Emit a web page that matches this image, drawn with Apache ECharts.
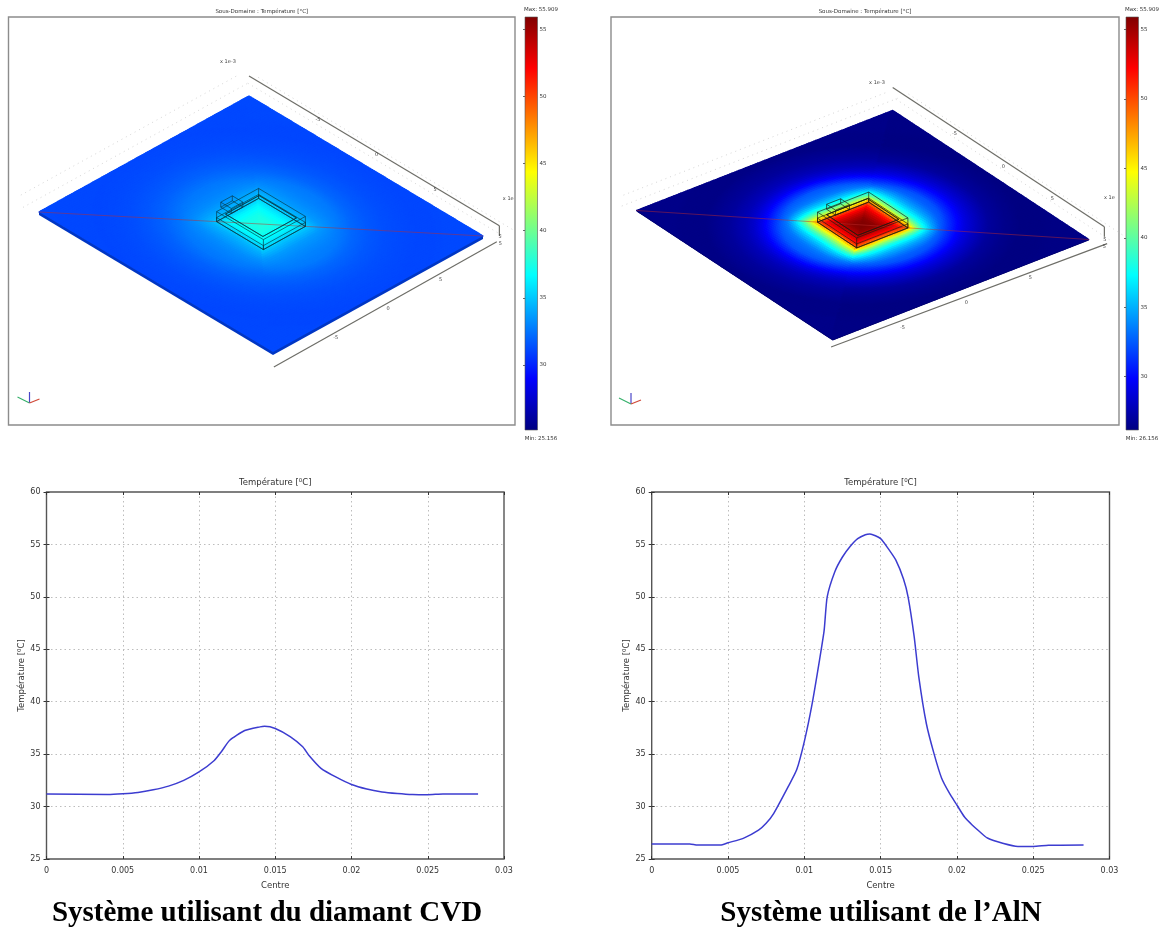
<!DOCTYPE html>
<html>
<head>
<meta charset="utf-8">
<style>
html,body{margin:0;padding:0;background:#fff;overflow:hidden}
#c{width:1163px;height:931px;filter:blur(0.5px)}
</style>
<script src="https://cdn.jsdelivr.net/npm/echarts@6/dist/echarts.min.js"></script>
</head>
<body>
<div id="c"></div>
<script>
// ---------- data ----------
const xTicksMax = 0.03;
const centreDiamond = [0,0.004,0.005,0.006,0.007,0.008,0.009,0.01,0.011,0.0115,0.012,0.013,0.014,0.0143,0.015,0.016,0.0168,0.0172,0.018,0.019,0.02,0.021,0.022,0.023,0.024,0.025,0.026,0.0283];
const tempDiamond   = [31.2,31.15,31.22,31.35,31.6,31.95,32.5,33.3,34.4,35.3,36.3,37.25,37.6,37.65,37.45,36.65,35.7,34.9,33.65,32.8,32.1,31.67,31.4,31.25,31.15,31.13,31.2,31.2];
const centreAlN = [0,0.0025,0.003,0.0045,0.005,0.006,0.007,0.0075,0.008,0.009,0.0095,0.01,0.0105,0.011,0.0113,0.0115,0.012,0.0125,0.013,0.0135,0.014,0.0143,0.015,0.0155,0.016,0.0165,0.0168,0.0172,0.0175,0.018,0.0185,0.019,0.0195,0.02,0.0205,0.021,0.0215,0.022,0.023,0.024,0.025,0.026,0.0283];
const tempAlN   = [26.43,26.43,26.33,26.33,26.55,26.97,27.75,28.4,29.35,32.05,33.5,36.2,39.7,44,46.8,50,52.4,53.8,54.8,55.55,55.93,56,55.55,54.6,53.5,51.7,50,46.2,42.4,37.9,35.05,32.7,31.3,30.15,29,28.25,27.6,27,26.5,26.2,26.2,26.3,26.33];
const colorbarTicks = [30,35,40,45,50,55];
const rangeDiamond = [25.156,55.909];
const rangeAlN = [26.156,55.909];
const modelTicks = [-5,0,5];
const lineTitle = 'Température [⁰C]';
const viewTitle = 'Sous-Domaine : Température [°C]';
const captionDiamond = 'Système utilisant du diamant CVD';
const captionAlN = 'Système utilisant de l’AlN';

// geometry of the modelled assembly, millimetres: [uMin,uMax,vMin,vMax,wMin,wMax]
const chipBoxes = [[-2,2,-2,2,0,10],[-2,2,-2,2,0,4],[-1.6,1.6,-1.6,1.6,8,8],[-2.9,-2,-0.6,0.5,0,5]];
const plateHalf = 10;

// ---------- colour map ----------
const jet = [[0,[0,0,128]],[0.125,[0,0,255]],[0.375,[0,255,255]],[0.625,[255,255,0]],[0.875,[255,0,0]],[1,[128,0,0]]];
function jetColor(t){
  t=Math.max(0,Math.min(1,t));
  for(let i=1;i<jet.length;i++){
    if(t<=jet[i][0]){
      const a=jet[i-1],b=jet[i],k=(t-a[0])/(b[0]-a[0]);
      return 'rgb('+[0,1,2].map(c=>Math.round(a[1][c]+(b[1][c]-a[1][c])*k)).join(',')+')';
    }
  }
  return 'rgb(128,0,0)';
}
function lookup(xs,ys,x){
  if(x<=xs[0])return ys[0];
  for(let i=1;i<xs.length;i++){ if(x<=xs[i]){const k=(x-xs[i-1])/(xs[i]-xs[i-1]);return ys[i-1]+(ys[i]-ys[i-1])*k;} }
  return ys[ys.length-1];
}

// ---------- layout ----------
const panels = [
 {name:'diamond',centre:centreDiamond,temp:tempDiamond,range:rangeDiamond,caption:captionDiamond,
  plot:{left:46.5,right:504,top:492,bottom:859},
  frame:{left:8.5,right:515,top:17,bottom:425},bar:{left:525,right:537.5,top:17,bottom:430},
  origin:[261,224],eu:[11.7,7],ev:[10.5,-5.8],thick:3,side:'#0036c4',wire:'#06323f',wireOp:0.8,
  back:[11.4,20],front:[[11.15,-11.2],[11,10.2]],tickLabel:[0.9,17.5],
  notes:[[-10.9,9,33.5,'x 1e-3'],[8.3,14.3,0,'x 1e'],[10.77,10.76,0,'5'],[11.3,10.2,0,'5']],
  triad:[29.5,403],capX:267},
 {name:'aln',centre:centreAlN,temp:tempAlN,range:rangeAlN,caption:captionAlN,
  plot:{left:651.7,right:1109.5,top:492,bottom:859},
  frame:{left:611,right:1119,top:17,bottom:425},bar:{left:1126,right:1138.5,top:17,bottom:430},
  origin:[862.7,225],eu:[9.8,6.45],ev:[12.8,-5],thick:1,side:'#000070',wire:'#1a1a10',wireOp:0.85,
  back:[11.6,23],front:[[10.67,-10.64],[11.1,10.6]],tickLabel:[1.3,17],
  notes:[[-13.3,11.3,0,'x 1e-3'],[6.76,14.1,0,'x 1e'],[10.66,10.76,0,'5'],[11.34,10.2,0,'5']],
  triad:[631,404],capX:881}
];

const grids=[],xAxes=[],yAxes=[],series=[],graphic=[];
const W=1163,H=931;
const smallFont='5.5px "DejaVu Sans"';
const txt='#333';

function addGrid(r,extra){
  grids.push(Object.assign({left:r.left,top:r.top,width:r.right-r.left,height:r.bottom-r.top,containLabel:false},extra||{}));
  return grids.length-1;
}

panels.forEach(p=>{
  // ---- line chart ----
  const g=addGrid(p.plot,{show:true,borderColor:'#555',borderWidth:1.4});
  const gridLine={show:true,showMinLine:false,showMaxLine:false,lineStyle:{color:'#bdbdbd',type:[1.5,3],width:1}};
  const tickIn={show:true,inside:true,length:3,lineStyle:{color:'#333',width:1}};
  const nameStyle={color:txt,fontSize:8.5,fontFamily:'DejaVu Sans'};
  xAxes.push({gridIndex:g,type:'value',min:0,max:xTicksMax,interval:0.005,position:'bottom',
    name:'Centre',nameLocation:'middle',nameGap:22,nameTextStyle:nameStyle,
    axisLine:{show:false},axisTick:tickIn,splitLine:gridLine,
    axisLabel:{color:txt,fontSize:8,fontFamily:'DejaVu Sans',margin:8,showMinLabel:true,showMaxLabel:true}});
  const xMain=xAxes.length-1;
  xAxes.push({gridIndex:g,type:'value',min:0,max:xTicksMax,interval:0.005,position:'top',
    name:lineTitle,nameLocation:'middle',nameGap:5,nameTextStyle:nameStyle,
    axisLine:{show:false},axisTick:tickIn,splitLine:{show:false},axisLabel:{show:false}});
  yAxes.push({gridIndex:g,type:'value',min:25,max:60,interval:5,position:'left',
    name:lineTitle,nameLocation:'middle',nameRotate:90,nameGap:19,nameTextStyle:nameStyle,
    axisLine:{show:false},axisTick:tickIn,splitLine:gridLine,
    axisLabel:{color:txt,fontSize:8,fontFamily:'DejaVu Sans',margin:6}});
  const yMain=yAxes.length-1;
  yAxes.push({gridIndex:g,type:'value',min:25,max:60,interval:5,position:'right',
    axisLine:{show:false},axisTick:tickIn,splitLine:{show:false},axisLabel:{show:false}});
  series.push({type:'line',name:p.name,xAxisIndex:xMain,yAxisIndex:yMain,symbol:'none',smooth:0.2,
    data:p.centre.map((x,i)=>[x,p.temp[i]]),lineStyle:{color:'#3c3cd0',width:1.5},silent:true,z:5});

  // ---- colour bar ----
  const gb=addGrid(p.bar);
  xAxes.push({gridIndex:gb,type:'value',min:0,max:1,show:false});
  const xb=xAxes.length-1;
  yAxes.push({gridIndex:gb,type:'value',min:p.range[0],max:p.range[1],position:'right',
    axisLine:{show:false},
    axisTick:{show:true,inside:true,length:2,lineStyle:{color:'#444',width:0.8},customValues:colorbarTicks},
    splitLine:{show:false},
    axisLabel:{show:true,color:txt,fontSize:5.5,fontFamily:'DejaVu Sans',margin:2,customValues:colorbarTicks}});
  const yb=yAxes.length-1;
  series.push({type:'custom',xAxisIndex:xb,yAxisIndex:yb,silent:true,z:3,data:[[0,p.range[0],1,p.range[1]]],
    renderItem:(params,api)=>{
      const a=api.coord([api.value(0),api.value(3)]),b=api.coord([api.value(2),api.value(1)]);
      const stops=jet.slice().reverse().map(s=>({offset:1-s[0],color:'rgb('+s[1].join(',')+')'}));
      return {type:'rect',shape:{x:a[0],y:a[1],width:b[0]-a[0],height:b[1]-a[1]},
        style:{fill:new echarts.graphic.LinearGradient(0,0,0,1,stops),stroke:'#555',lineWidth:0.6}};
    }});
  const barMid=p.bar.left+16;
  graphic.push({type:'text',x:barMid,y:10,silent:true,style:{text:'Max: '+p.range[1],font:smallFont,fill:txt,align:'center',verticalAlign:'middle'}});
  graphic.push({type:'text',x:barMid,y:439,silent:true,style:{text:'Min: '+p.range[0],font:smallFont,fill:txt,align:'center',verticalAlign:'middle'}});

  // ---- surface view: hidden axes in view units, mapped to the frame ----
  const gv=addGrid(p.frame,{show:true,borderColor:'#8c8c8c',borderWidth:1.4});
  xAxes.push({gridIndex:gv,type:'value',min:p.frame.left,max:p.frame.right,show:true,position:'top',
    name:viewTitle,nameLocation:'middle',nameGap:2,nameTextStyle:{color:txt,fontSize:5.5,fontFamily:'DejaVu Sans'},
    axisLine:{show:false},axisTick:{show:false},axisLabel:{show:false},splitLine:{show:false}});
  const xv=xAxes.length-1;
  yAxes.push({gridIndex:gv,type:'value',min:p.frame.top,max:p.frame.bottom,inverse:true,show:false});
  const yv=yAxes.length-1;
  const proj=(u,v,w)=>[p.origin[0]+u*p.eu[0]+v*p.ev[0],p.origin[1]+u*p.eu[1]+v*p.ev[1]-(w||0)];

  // temperature at a plate position, taken from the measured centre-line profile
  const diag=Math.SQRT2*plateHalf/1000;
  const fieldT=(u,v)=>{
    const d=Math.hypot(u,v),sq=Math.max(Math.abs(u),Math.abs(v))*Math.SQRT2;
    const m=Math.max(0,Math.min(1,(5-d)/3));
    const r=(d*(1-m)+sq*m)/1000;
    return lookup(p.centre,p.temp,u+v<0?diag-r:diag+r);
  };
  const N=110,cells=[];
  for(let i=0;i<N;i++)for(let j=0;j<N;j++)cells.push([i,j]);
  const span=2*plateHalf/N;
  series.push({type:'custom',xAxisIndex:xv,yAxisIndex:yv,silent:true,z:2,progressive:0,data:cells,
    renderItem:(params,api)=>{
      const i=api.value(0),j=api.value(1),u=-plateHalf+i*span,v=-plateHalf+j*span;
      const pts=[proj(u,v),proj(u+span,v),proj(u+span,v+span),proj(u,v+span)].map(q=>api.coord(q));
      const c=jetColor((fieldT(u+span/2,v+span/2)-p.range[0])/(p.range[1]-p.range[0]));
      return {type:'polygon',shape:{points:pts},style:{fill:c,stroke:c,lineWidth:1.4,lineJoin:'round'}};
    }});
  // plate side faces
  const h=plateHalf;
  const sides=[[[-h,-h],[h,-h]],[[h,-h],[h,h]]];
  series.push({type:'custom',xAxisIndex:xv,yAxisIndex:yv,silent:true,z:3,data:sides.map((s,i)=>[i]),
    renderItem:(params,api)=>{
      const s=sides[api.value(0)];
      const pts=[proj(s[0][0],s[0][1]),proj(s[1][0],s[1][1]),proj(s[1][0],s[1][1],-p.thick),proj(s[0][0],s[0][1],-p.thick)].map(q=>api.coord(q));
      return {type:'polygon',shape:{points:pts},style:{fill:p.side}};
    }});

  // polyline helper built from model-space segments
  const segSeries=(segs,style,z)=>series.push({type:'custom',xAxisIndex:xv,yAxisIndex:yv,silent:true,z:z,data:segs.map((s,i)=>[i]),
    renderItem:(params,api)=>{
      const s=segs[api.value(0)];
      const a=api.coord(proj(s[0],s[1],s[2])),b=api.coord(proj(s[3],s[4],s[5]));
      return {type:'line',shape:{x1:a[0],y1:a[1],x2:b[0],y2:b[1]},style:Object.assign({stroke:'#000'},style)};
    }});

  // chip wireframe
  const wires=[];
  chipBoxes.forEach(b=>{
    const [u0,u1,v0,v1,w0,w1]=b;
    const r=[[u0,v0],[u1,v0],[u1,v1],[u0,v1]];
    [w0,w1].forEach(w=>{ r.forEach((a,i)=>{const c=r[(i+1)%4];wires.push([a[0],a[1],w,c[0],c[1],w]);}); });
    if(w1>w0) r.forEach(a=>wires.push([a[0],a[1],w0,a[0],a[1],w1]));
  });
  segSeries(wires,{stroke:p.wire,opacity:p.wireOp,lineWidth:0.8},6);
  // section line along the plate diagonal
  segSeries([[-h,-h,0,h,h,0]],{stroke:'#c02a2a',opacity:0.6,lineWidth:0.8},5);
  // axis frame of the view
  const bU=p.back[0],bW=p.back[1],f=p.front;
  segSeries([[-10,10,bW,bU,10,bW],[bU,10,bW,bU,10,bW-10],[f[0][0],f[0][1],0,f[1][0],f[1][1],0]],{stroke:'#6e6e68',lineWidth:1.2},4);
  // dotted back grid
  segSeries([[-11,-10.4,0,-11,11.2,0],[-12,-9.5,0,-12,11.2,0],[-11,11,0,11,11,0],[-11,12,0,11,12,0]],{stroke:'#d6d6d6',lineDash:[1,4],lineWidth:1},1);

  // axis numerals and notes
  const labels=[];
  modelTicks.forEach(t=>{labels.push([t+p.tickLabel[0],10,p.tickLabel[1],String(t)]);labels.push([11.5,t-0.7,0,String(t)]);});
  p.notes.forEach(n=>labels.push(n));
  series.push({type:'custom',xAxisIndex:xv,yAxisIndex:yv,silent:true,z:7,data:labels.map((s,i)=>[i]),
    renderItem:(params,api)=>{
      const l=labels[api.value(0)],q=api.coord(proj(l[0],l[1],l[2]));
      return {type:'text',style:{x:q[0],y:q[1],text:l[3],font:'5px "DejaVu Sans"',fill:'#444',align:'center',verticalAlign:'middle'}};
    }});

  // orientation triad (screen-space arms, pixels from its origin)
  const arms=[[0,-11,'#4a46c8'],[-12,-6,'#35b06a'],[10,-4,'#d04a3a']];
  series.push({type:'custom',xAxisIndex:xv,yAxisIndex:yv,silent:true,z:7,data:arms.map((s,i)=>[i]),
    renderItem:(params,api)=>{
      const a=arms[api.value(0)],o=api.coord(p.triad),e=api.coord([p.triad[0]+a[0],p.triad[1]+a[1]]);
      return {type:'line',shape:{x1:o[0],y1:o[1],x2:e[0],y2:e[1]},style:{stroke:a[2],lineWidth:1.2}};
    }});

  // caption
  graphic.push({type:'text',x:p.capX,y:914,silent:true,style:{text:p.caption,font:'bold 29px "Liberation Serif"',fill:'#000',align:'center',verticalAlign:'middle'}});
});

const chart=echarts.init(document.getElementById('c'),null,{renderer:'canvas',width:W,height:H});
chart.setOption({animation:false,backgroundColor:'#fff',grid:grids,xAxis:xAxes,yAxis:yAxes,series:series,graphic:graphic});
</script>
</body>
</html>
